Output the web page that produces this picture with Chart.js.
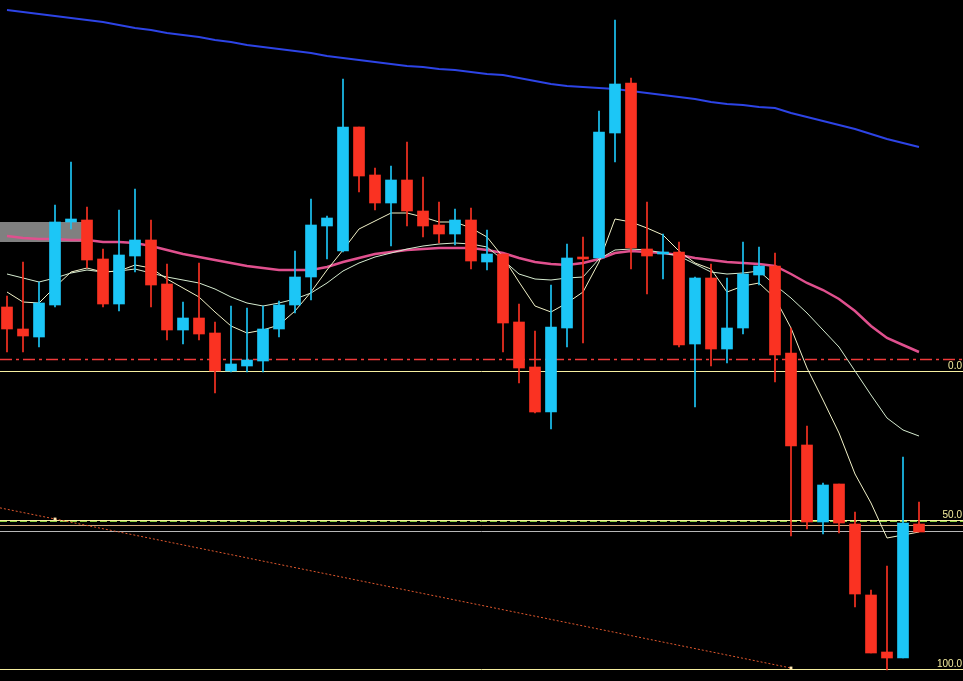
<!DOCTYPE html>
<html><head><meta charset="utf-8">
<script src="https://cdn.jsdelivr.net/npm/chart.js@4.4.1/dist/chart.umd.min.js"></script>
<style>html,body{margin:0;padding:0;background:#000;overflow:hidden}#wrap{position:relative;width:963px;height:681px}</style>
</head><body><div id="wrap"><canvas id="c"></canvas></div>
<script>
// candle numbers (x positions on the index axis)
const candles = [0,1,2,3,4,5,6,7,8,9,10,11,12,13,14,15,16,17,18,19,20,21,22,23,24,25,26,27,28,29,30,31,32,33,34,35,36,37,38,39,40,41,42,43,44,45,46,47,48,49,50,51,52,53,54,55,56,57];
const opens  = [374,352,344,376,459,461,422,377,425,441,397,351,363,348,310,315,320,352,376,404,455,430,554,506,478,501,470,456,447,461,419,427,359,314,269,353,424,423,548,598,432,427,429,337,403,332,353,406,415,328,236,159,197,157,86,29,23,157];
const highs  = [385,419,399,476,519,474,432,471,492,461,417,379,418,359,375,373,375,380,430,482,465,602,554,513,515,539,504,479,472,473,451,427,377,350,396,437,444,570,661,603,479,447,439,404,417,403,439,434,428,353,255,198,197,169,91,115,224,179];
const lows   = [329,329,334,374,452,413,374,370,409,374,341,337,341,288,309,309,309,344,368,381,422,429,489,471,435,455,444,438,436,412,411,329,298,268,252,334,338,423,519,412,387,402,334,274,315,318,347,396,299,145,152,147,148,74,28,11,23,149];
const closes = [352,345,378,459,462,421,377,426,441,396,351,363,347,310,317,321,352,376,404,456,463,554,505,478,501,470,455,447,461,420,427,358,313,269,354,423,422,549,597,433,425,429,336,403,332,353,407,415,326,235,159,196,158,87,28,23,158,149];
// moving averages, one value per candle
const maFast = [389,379,378,394,409,413,409,410,416,413,402,393,384,369,355,348,351,356,370,389,411,431,452,460,468,468,464,459,459,453,444,424,399,375,369,378,389,419,462,459,453,446,430,418,412,389,395,398,383,353,313,281,248,207,178,143,146,149];
const maSlow = [407,403,399,403,408,411,409,410,412,408,404,401,398,392,384,378,375,378,382,388,398,410,418,424,428,432,435,437,438,437,434,421,407,402,401,403,404,422,431,432,431,428,425,417,409,407,408,410,396,383,368,351,334,310,286,263,251,245];
const maMid  = [445,443,442,442,441,441,439,439,438,435,431,427,424,421,418,415,413,411,411,411,414,419,423,427,429,431,432,433,433,433,431,428,423,419,417,416,418,422,428,430,429,428,426,423,421,419,418,417,415,407,398,391,382,370,355,343,336,329];
const maLong = [671,669,667,665,663,661,659,656,653,651,648,646,644,641,639,636,634,632,630,628,625,623,621,619,617,615,614,612,611,609,607,606,603,600,597,595,594,593,592,590,588,586,584,582,579,577,576,574,573,568,564,560,556,552,547,542,538,534];
// Fibonacci levels and their tick labels
const fibValues = [310, 161, 12];
const fibLabels = ['0.0', '50.0', '100.0'];
// other horizontal lines
const dashDotLevel = 322;
const greenLevel = 160.5;
const tanLevel = 156;
const grayLevel = 150;
// trend line anchors (candle, value)
const trendCandles = [3, 49];
const trendValues = [162, 13];
// gray zone: right edge candle, top and bottom value
const zoneEnd = 4.7, zoneTop = 459, zoneBottom = 439;

const X_MIN = -0.4375, X_MAX = 59.75, Y_MIN = 0, Y_MAX = 681;

const UP = '#1cc6f6', DOWN = '#fa3222';
const isUp = candles.map(i => closes[i] >= opens[i]);
const colors = isUp.map(u => u ? UP : DOWN);

const slope = (trendValues[1] - trendValues[0]) / (trendCandles[1] - trendCandles[0]);
const trendData = [
  {x: X_MIN, y: trendValues[0] + (X_MIN - trendCandles[0]) * slope},
  {x: trendCandles[0], y: trendValues[0]},
  {x: trendCandles[1], y: trendValues[1]}
];

const overlay = {
  id: 'overlay',
  beforeDraw(chart) {
    const {ctx, width, height} = chart;
    ctx.save(); ctx.fillStyle = '#000'; ctx.fillRect(0, 0, width, height); ctx.restore();
  },
  beforeDatasetsDraw(chart) {
    const {ctx, chartArea: a, scales: {x, y}} = chart;
    ctx.save();
    // gray zone
    const zx0 = x.getPixelForValue(X_MIN), zx1 = x.getPixelForValue(zoneEnd);
    const zy0 = y.getPixelForValue(zoneTop), zy1 = y.getPixelForValue(zoneBottom);
    ctx.fillStyle = '#808080';
    ctx.fillRect(zx0, zy0, zx1 - zx0, zy1 - zy0);
    const hline = (v, color, dash, w) => {
      const py = Math.round(y.getPixelForValue(v)) + 0.5;
      ctx.beginPath(); ctx.setLineDash(dash || []); ctx.lineWidth = w || 1; ctx.strokeStyle = color;
      ctx.moveTo(a.left, py); ctx.lineTo(a.right, py); ctx.stroke();
    };
    hline(dashDotLevel, '#f03a3a', [12, 4, 3, 4], 1.6);
    hline(grayLevel, '#b8b8b8');
    hline(tanLevel, '#d2a67a');
    fibValues.forEach(v => hline(v, '#f6eea0'));
    hline(greenLevel, '#8fd040', [7, 3]);
    ctx.restore();
  },
  afterDatasetsDraw(chart) {
    const {ctx, chartArea: a, scales: {y}} = chart;
    ctx.save();
    ctx.font = '10px "Liberation Sans", Arial, sans-serif';
    ctx.fillStyle = '#f6eea0';
    ctx.textAlign = 'right'; ctx.textBaseline = 'alphabetic';
    fibValues.forEach((v, i) => {
      const py = Math.round(y.getPixelForValue(v));
      ctx.fillText(fibLabels[i], a.right - 1, py - 2);
    });
    ctx.restore();
  }
};

new Chart(document.getElementById('c'), {
  type: 'bar',
  data: {
    datasets: [
      { type: 'bar', label: 'body', order: 0, grouped: false, barThickness: 11,
        data: candles.map(i => ({x: i, y: [opens[i], closes[i]]})),
        backgroundColor: colors, borderWidth: 0 },
      { type: 'bar', label: 'wick', order: 1, grouped: false, barThickness: 1,
        data: candles.map(i => ({x: i, y: [lows[i], highs[i]]})),
        backgroundColor: colors, borderWidth: 0 },
      { type: 'line', label: 'fast', order: 2, data: candles.map(i => ({x: i, y: maFast[i]})),
        borderColor: '#f2f2c8', borderWidth: 1, pointRadius: 0, tension: 0 },
      { type: 'line', label: 'slow', order: 3, data: candles.map(i => ({x: i, y: maSlow[i]})),
        borderColor: '#d6ecd0', borderWidth: 1, pointRadius: 0, tension: 0 },
      { type: 'line', label: 'mid', order: 4, data: candles.map(i => ({x: i, y: maMid[i]})),
        borderColor: '#e0508e', borderWidth: 2.5, pointRadius: 0, tension: 0 },
      { type: 'line', label: 'long', order: 5, data: candles.map(i => ({x: i, y: maLong[i]})),
        borderColor: '#2d44e6', borderWidth: 2, pointRadius: 0, tension: 0 },
      { type: 'line', label: 'trend', order: 6, data: trendData,
        borderColor: '#e0582e', borderWidth: 1, borderDash: [2, 2], tension: 0,
        pointRadius: [0, 2, 2], pointStyle: 'rect', pointBackgroundColor: '#ffe6b0', pointBorderWidth: 0 }
    ]
  },
  options: {
    responsive: true, maintainAspectRatio: false, animation: false,
    layout: { padding: 0, autoPadding: false },
    plugins: { legend: { display: false }, tooltip: { enabled: false } },
    scales: {
      x: { type: 'linear', min: X_MIN, max: X_MAX, display: false, offset: false, grid: { display: false } },
      y: { type: 'linear', min: Y_MIN, max: Y_MAX, display: false, grid: { display: false } }
    }
  },
  plugins: [overlay]
});
</script>
</body></html>
